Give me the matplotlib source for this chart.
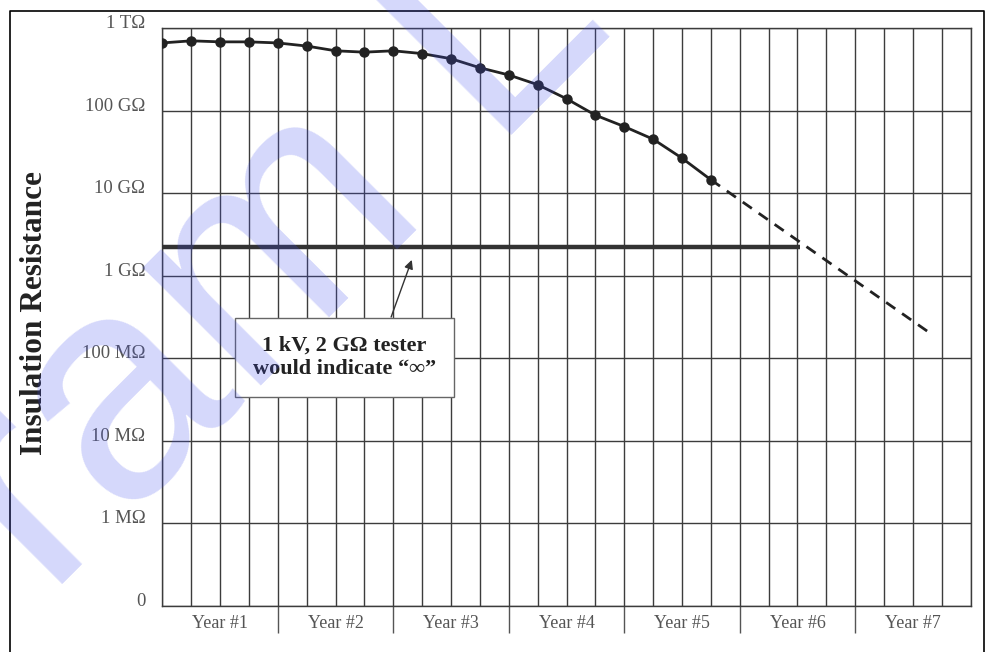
import numpy as np
import matplotlib.pyplot as plt
from matplotlib.lines import Line2D

# measured insulation resistance, one reading per quarter (ohms)
quarters = np.arange(20)
resistance = [6.6e11, 7.0e11, 6.8e11, 6.8e11, 6.6e11, 6.05e11, 5.3e11, 5.1e11,
              5.3e11, 4.9e11, 4.25e11, 3.3e11, 2.7e11, 2.06e11, 1.39e11, 8.8e10,
              6.4e10, 4.5e10, 2.65e10, 1.45e10]

# extrapolated trend
proj_x = [19, 26.6]
proj_y = [1.45e10, 2.0e8]

# 1 kV, 2 GOhm tester limit
limit_x = [0, 22.1]
limit_y = [2.2e9, 2.2e9]

y_ticks = [1e5, 1e6, 1e7, 1e8, 1e9, 1e10, 1e11, 1e12]
y_labels = ['0', '1 M\u03a9', '10 M\u03a9', '100 M\u03a9', '1 G\u03a9', '10 G\u03a9', '100 G\u03a9', '1 T\u03a9']
year_bounds = [4, 8, 12, 16, 20, 24]
year_centers = [2, 6, 10, 14, 18, 22, 26]
year_labels = ['Year #1', 'Year #2', 'Year #3', 'Year #4', 'Year #5', 'Year #6', 'Year #7']

serif = ['Liberation Serif', 'DejaVu Serif']

fig = plt.figure(figsize=(9.85, 6.52), dpi=100)
ax = fig.add_axes([0.1648, 0.0710, 0.8207, 0.8860])

ax.set_yscale('log')
ax.set_ylim(1e5, 1e12)
ax.set_xlim(0, 28)

grid_col = '#3c3c3c'
ax.set_xticks(year_bounds)
ax.set_xticklabels([])
ax.set_xticks(np.arange(29), minor=True)
ax.set_yticks(y_ticks)
ax.set_yticklabels([])
ax.yaxis.set_minor_locator(plt.NullLocator())
ax.tick_params(axis='x', which='major', direction='out', length=19.5, width=1.0, color='#555555')
ax.tick_params(axis='x', which='minor', length=0)
ax.tick_params(axis='y', length=0)
ax.grid(True, which='both', axis='x', color=grid_col, lw=1.0)
ax.grid(True, which='major', axis='y', color=grid_col, lw=1.0)
for s in ax.spines.values():
    s.set_color(grid_col)
    s.set_linewidth(1.0)

# y labels sit just above their grid line
for v, lab in zip(y_ticks, y_labels):
    ax.text(-0.021, v, lab, transform=ax.get_yaxis_transform(), ha='right', va='baseline',
            fontsize=13.5, family=serif, color='#555555')

for x, lab in zip(year_centers, year_labels):
    ax.text(x, -0.031, lab, transform=ax.get_xaxis_transform(), ha='center', va='center',
            fontsize=13, family=serif, color='#555555')

ax.plot(limit_x, limit_y, color='#333333', lw=3.2, solid_capstyle='butt', zorder=3)
ax.plot(proj_x, proj_y, color='#222222', lw=2.0, ls=(0, (4, 3)), zorder=3)
ax.plot(quarters, resistance, color='#222222', lw=2.0, marker='o', ms=6.5, zorder=4)

ax.annotate('1 kV, 2 G\u03a9 tester\nwould indicate \u201c\u221e\u201d',
            xy=(8.64, 1.55e9), xytext=(6.3, 1.03e8),
            ha='center', va='center', fontsize=16, fontweight='bold', family=serif,
            color='#222222', linespacing=1.23,
            bbox=dict(boxstyle='square,pad=0.8', fc='white', ec='#666666', lw=1.0),
            arrowprops=dict(arrowstyle='-|>', color='#333333', lw=1.0, mutation_scale=13,
                            relpos=(0.72, 1.0), shrinkA=0, shrinkB=0),
            zorder=5)

fig.text(35 / 985, 1 - 313 / 652, 'Insulation Resistance', rotation=90, ha='center', va='center',
         fontsize=22.5, fontweight='bold', family=serif, color='#222222')

# outer frame
fig.add_artist(Line2D([10 / 985, 10 / 985, 984 / 985, 984 / 985],
                      [0, 1 - 11 / 652, 1 - 11 / 652, 0], color='black', lw=1.2))

# watermark
fig.text(0.0491, 0.0819, 'ram Lo', rotation=45, rotation_mode='anchor', ha='left', va='baseline',
         fontsize=227, family='Liberation Sans', color=(0.25, 0.3, 0.93), alpha=0.22, zorder=10)

fig.savefig('out.png', dpi=100)
